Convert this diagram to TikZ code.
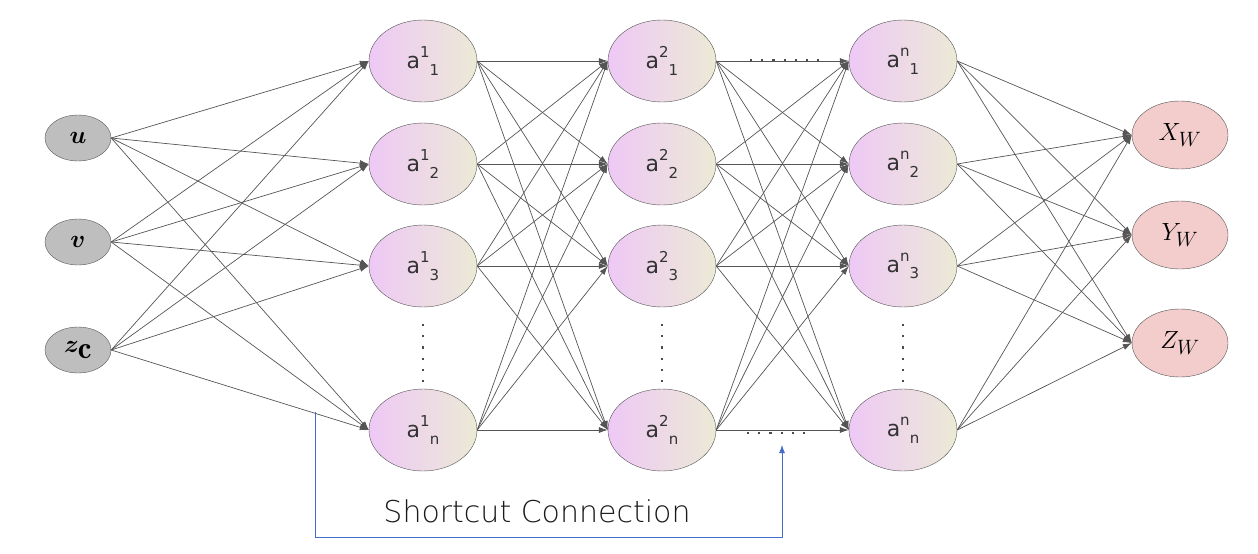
\documentclass[tikz,border=0pt]{standalone}
\usepackage{amsmath,amssymb,bm}
\usepackage{fontspec}
\newfontfamily\hidfont{DejaVu Sans}
\newfontfamily\labfont{DejaVu Sans ExtraLight}
\usetikzlibrary{shapes.geometric,arrows.meta}
\definecolor{inpc}{RGB}{190,190,190}
\definecolor{hidl}{RGB}{238,200,246}
\definecolor{hidr}{RGB}{236,234,214}
\definecolor{outc}{RGB}{243,204,204}
\definecolor{edgec}{RGB}{85,85,85}
\definecolor{shortc}{RGB}{70,110,200}
\newcommand{\hl}[2]{a\raisebox{0.5em}{\fontsize{15}{15}\selectfont #1}\raisebox{-0.3em}{\fontsize{15}{15}\selectfont #2}}
\begin{document}
\begin{tikzpicture}[x=1pt,y=-1pt,
  inp/.style={ellipse,draw=edgec,fill=inpc,minimum width=66,minimum height=46,inner sep=0pt,font=\fontsize{44}{44}\selectfont},
  hid/.style={ellipse,draw=edgec,shading angle=120,left color=hidl,right color=hidr,minimum width=108,minimum height=82,inner sep=0pt,font=\hidfont\fontsize{22}{22}\selectfont\color{black!80}},
  outn/.style={ellipse,draw=edgec,fill=outc,minimum width=96,minimum height=68,inner sep=0pt,font=\fontsize{32}{32}\selectfont},
  con/.style={draw=edgec,line width=0.7pt,-{Latex[length=9pt,width=6pt]}},
  dts/.style={line width=2.2pt,draw=black!70,dash pattern=on 2.2pt off 9pt}]
\useasboundingbox (0,0) rectangle (1258,554);
\node[inp] (u) at (78,138) {$\bm{u}$};
\node[inp] (v) at (78,242) {$\bm{v}$};
\node[inp] (z) at (78,350) {$\bm{z}_{\mathbf{c}}$};
\foreach \L/\x/\s in {1/423/1,2/662/2,3/903/n}{
  \node[hid] (h\L1) at (\x,61) {\hl{\s}{1}};
  \node[hid] (h\L2) at (\x,164) {\hl{\s}{2}};
  \node[hid] (h\L3) at (\x,266) {\hl{\s}{3}};
  \node[hid] (h\L4) at (\x,430) {\hl{\s}{n}};
  \coordinate (d\L a) at (\x,324);
  \coordinate (d\L b) at (\x,386);
  \draw[dts] (d\L a) -- (d\L b);
}
\node[outn] (o1) at (1180,135) {$X_W$};
\node[outn] (o2) at (1180,235) {$Y_W$};
\node[outn] (o3) at (1180,343) {$Z_W$};
\foreach \i in {u,v,z}{\foreach \j in {1,...,4}{\draw[con] (\i.east) -- (h1\j.west);}}
\foreach \i in {1,...,4}{\foreach \j in {1,...,4}{
  \draw[con] (h1\i.east) -- (h2\j.west);
  \draw[con] (h2\i.east) -- (h3\j.west);}}
\foreach \i in {1,...,4}{\foreach \j in {1,2,3}{\draw[con] (h3\i.east) -- (o\j.west);}}
\coordinate (t1) at (750,60); \coordinate (t2) at (822,60);
\draw[dts] (t1) -- (t2);
\coordinate (b1) at (747,433); \coordinate (b2) at (810,433);
\draw[dts] (b1) -- (b2);
\coordinate (s1) at (315,412); \coordinate (s2) at (782,445);
\draw[shortc,line width=0.8pt,-{Latex[length=8pt,width=6pt]}] (s1) -- (315,537) -- (782,537) -- (s2);
\node[font=\labfont\fontsize{30}{30}\selectfont,text=black!90] (lab) at (537,511) {Shortcut Connection};
\end{tikzpicture}
\end{document}
